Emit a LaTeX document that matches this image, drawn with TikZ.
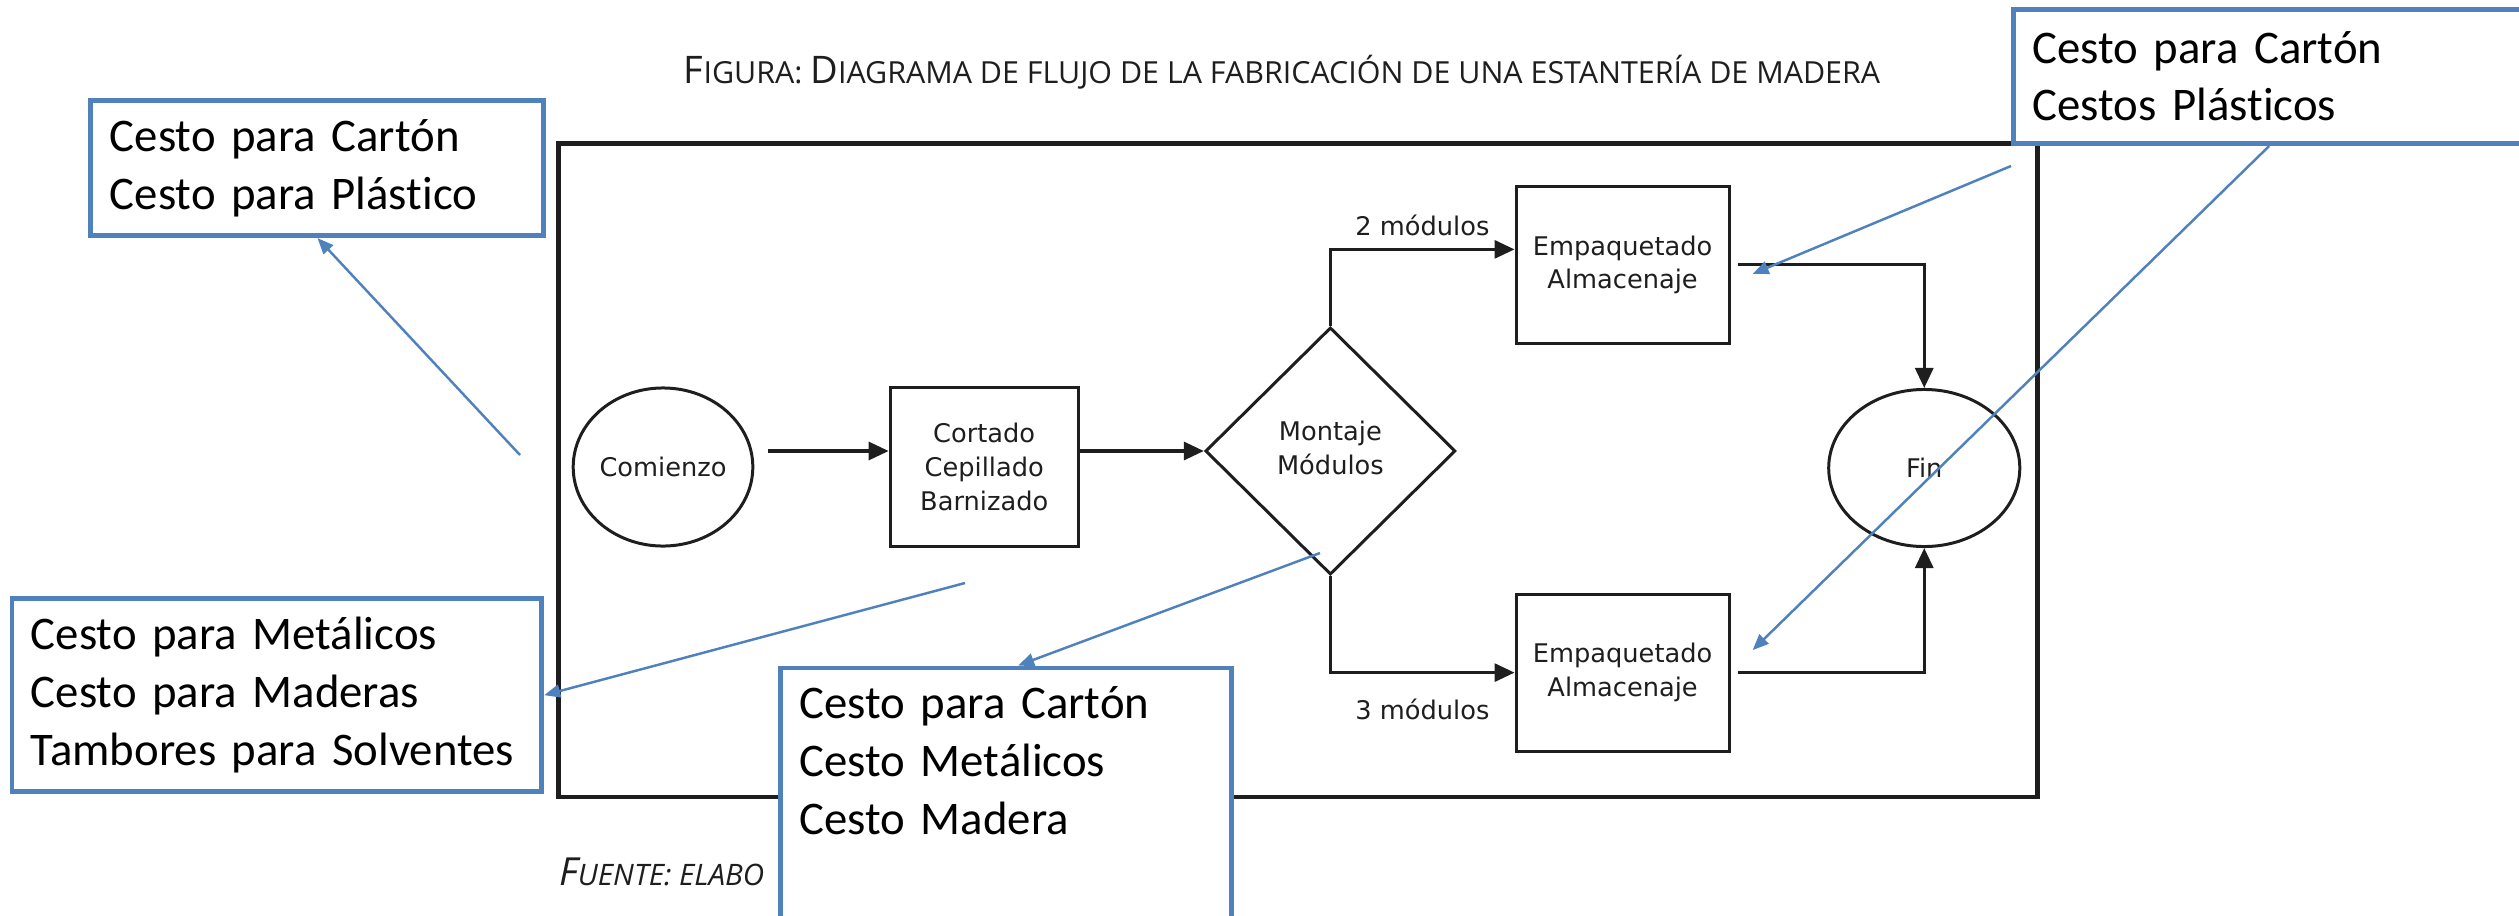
\documentclass[tikz,border=0pt]{standalone}
\usepackage{fontspec}
\usepackage{tikz}
\usetikzlibrary{positioning,shapes.geometric,arrows.meta}
\setmainfont[Ligatures=NoCommon]{Carlito}
\newfontfamily\diagfont{DejaVu Sans}
\newfontfamily\titlefont{Open Sans}
\definecolor{notablue}{HTML}{4F81BD}
\definecolor{diaggray}{HTML}{1E1E1E}
\newcommand{\capgrande}[1]{{\fontsize{10.8}{12}\selectfont #1}}

\begin{document}
\begin{tikzpicture}[x=0.01cm,y=-0.01cm,on grid,
    box/.style={draw=diaggray,line width=0.85pt,text=diaggray,align=center,inner sep=0pt,
      font=\diagfont\fontsize{7.3}{9.6}\selectfont},
    proc/.style={box,rectangle,minimum width=1.88cm,minimum height=1.58cm},
    term/.style={box,ellipse,minimum width=1.75cm,minimum height=1.58cm},
    decide/.style={box,diamond,minimum width=2.5cm,minimum height=2.47cm},
    flow/.style={draw=diaggray,line width=0.9pt,-{Triangle[length=0.2cm,width=0.18cm]}},
    lbl/.style={text=diaggray,font=\diagfont\fontsize{7.3}{9.6}\selectfont},
    nota/.style={draw=notablue,line width=1.4pt,fill=white,anchor=north west,align=left,
      inner sep=0.19cm,font=\fontsize{13.3}{16.4}\selectfont},
    link/.style={notablue,line width=0.7pt,-{Triangle[length=0.16cm,width=0.13cm]}}]
  \path[use as bounding box,clip] (0,0) rectangle (2519,915);

  % title and frame
  \node[anchor=base,text=diaggray,font=\titlefont\fontsize{8.65}{10}\selectfont] (titulo) at (1282,83)
    {\capgrande{F}IGURA: \capgrande{D}IAGRAMA DE FLUJO DE LA FABRICACIÓN DE UNA ESTANTERÍA DE MADERA};
  \draw[diaggray,line width=1.4pt] (558.4,143.4) rectangle (2037.7,797);
  \node[anchor=base west,text=diaggray,font=\titlefont\itshape\fontsize{8.4}{9}\selectfont] (fuente) at (547,885)
    {{\fontsize{11}{12}\selectfont F}UENTE: ELABO};

  % flow chart
  \node[term] (comienzo) at (663,467) {Comienzo};
  \node[proc] (cortado) [right=3.21cm of comienzo] {Cortado\\Cepillado\\Barnizado};
  \node[decide] (montaje) [above right=0.16cm and 3.46cm of cortado] {\raisebox{-0.09cm}{\begin{tabular}{@{}c@{}}Montaje\\Módulos\end{tabular}}};
  \node[proc,minimum width=2.13cm,minimum height=1.57cm] (empaq_1) [above right=1.86cm and 2.92cm of montaje] {Empaquetado\\Almacenaje};
  \node[proc,minimum width=2.13cm,minimum height=1.57cm] (empaq_2) [below right=2.215cm and 2.92cm of montaje] {Empaquetado\\Almacenaje};
  \node[term,minimum width=1.91cm,minimum height=1.57cm] (fin) [below right=0.17cm and 5.935cm of montaje] {Fin};

  \draw[flow,shorten <=0.14cm] (comienzo.east |- montaje.west) -- (cortado.west |- montaje.west);
  \draw[flow] (cortado.east |- montaje.west) -- (montaje.west);
  \draw[flow] (montaje.north) |- ([yshift=0.155cm]empaq_1.west)
    node[lbl,pos=0.75,anchor=south] {2 módulos};
  \draw[flow] (montaje.south) |- (empaq_2.west)
    node[lbl,pos=0.75,anchor=north,yshift=-0.126cm] {3 módulos};
  \draw[flow] ([xshift=0.07cm]empaq_1.east) -| (fin.north);
  \draw[flow] ([xshift=0.07cm]empaq_2.east) -| (fin.south);

  % notes
  \node[nota,text width=4.14cm,minimum height=1.34cm] (nota_1) at (88.4,98)
    {Cesto para Cartón\\Cesto para Plástico};
  \node[nota,text width=4.915cm,minimum height=1.93cm] (nota_2) at (9.5,596)
    {Cesto para Metálicos\\Cesto para Maderas\\Tambores para Solventes};
  \node[nota,text width=4.13cm,text depth=3cm] (nota_3) at (778,665.5)
    {Cesto para Cartón\\Cesto Metálicos\\Cesto Madera};
  \node[nota,text width=5.11cm,minimum height=1.343cm] (nota_4) at (2011,6.7)
    {Cesto para Cartón\\Cestos Plásticos};

  \coordinate (p_1) at (520,455);
  \coordinate (p_2) at (965,583);
  \coordinate (p_3) at (1320,553);
  \draw[link] (p_1) -- ([xshift=2.29cm]nota_1.south west);
  \draw[link] (p_2) -- (nota_2.east);
  \draw[link] (p_3) -- ([xshift=2.4cm]nota_3.north west);
  \draw[link] ([yshift=-0.2cm]nota_4.south west) -- ([xshift=0.22cm,yshift=-0.09cm]empaq_1.east);
  \draw[link] ([xshift=2.58cm]nota_4.south west) -- ([xshift=0.22cm,yshift=0.225cm]empaq_2.east);
\end{tikzpicture}
\end{document}
